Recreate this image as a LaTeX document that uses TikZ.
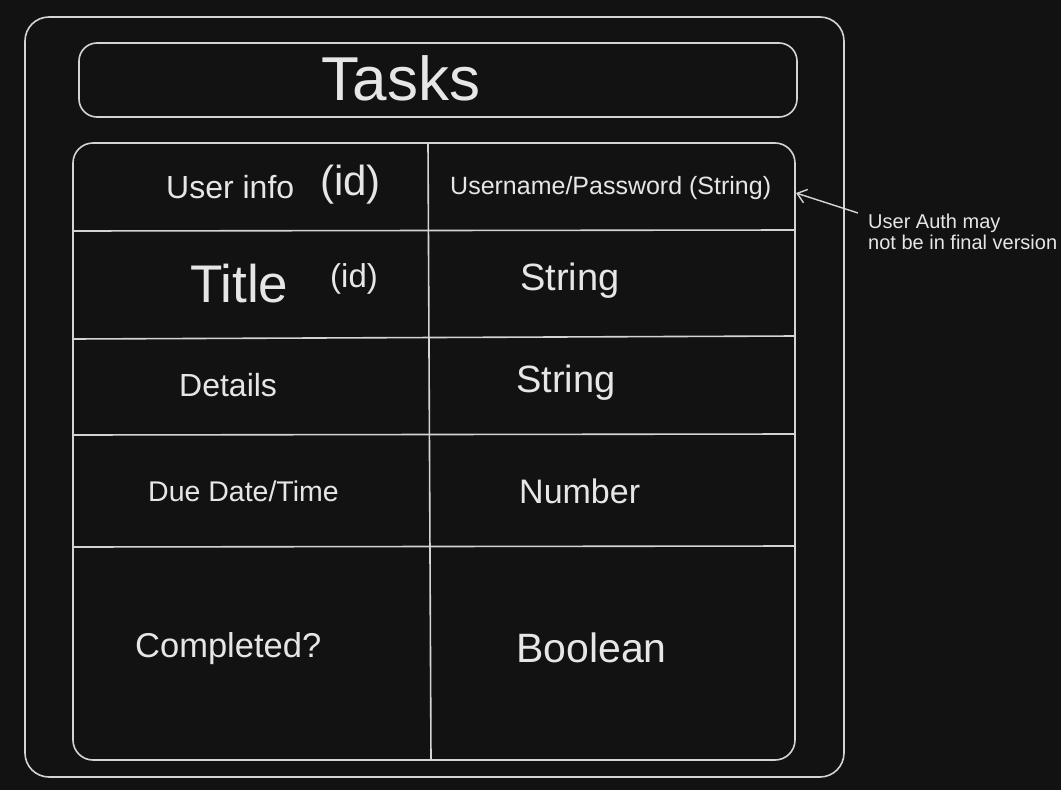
\documentclass[tikz,border=0pt]{standalone}
\usepackage{fontspec}
\setmainfont{Liberation Sans}
\usetikzlibrary{arrows.meta}
\definecolor{bg}{HTML}{121212}
\definecolor{ink}{HTML}{D4D4D4}
\definecolor{txt}{HTML}{E6E6E6}
\newcommand{\fs}[1]{\fontsize{#1}{#1}\selectfont}
\begin{document}
\begin{tikzpicture}[x=1pt,y=-1pt,
  box/.style={draw=ink,line width=1.6pt},
  rule/.style={draw=ink,line width=1.6pt},
  lbl/.style={text=txt,inner sep=0pt,anchor=west},
  conn/.style={draw=ink,line width=1.4pt,-{Straight Barb[length=9pt,width=14pt,line width=1.4pt]}}]
\fill[bg] (0,0) rectangle (1061,790);
\useasboundingbox (0,0) rectangle (1061,790);
% frames
\draw[box,rounded corners=24pt] (25,17) rectangle (844,777);
\draw[box,rounded corners=18pt] (79,43) rectangle (797,117);
\draw[box,rounded corners=20pt] (73,143) rectangle (795,760);
% grid lines
\draw[rule] (428,143) -- (431,760);
\draw[rule] (73,231) -- (795,230);
\draw[rule] (73,339) -- (795,336);
\draw[rule] (73,435) -- (795,434);
\draw[rule] (73,547) -- (795,546);
% texts
\node[text=txt,inner sep=0pt] (title) at (401,78) {\fs{62}Tasks};
\node[lbl] (userinfo) at (166,187) {\fs{32}User info};
\node[lbl] (uid) at (320,185) {\fs{42}(id)};
\node[lbl] (userpass) at (450,188) {\fs{25}Username/Password (String)};
\node[lbl] (ttl) at (190,284) {\fs{53}Title};
\node[lbl] (tid) at (330,279) {\fs{33}(id)};
\node[lbl] (str1) at (520,281) {\fs{38}String};
\node[lbl] (details) at (179,385) {\fs{32}Details};
\node[lbl] (str2) at (516,383) {\fs{38}String};
\node[lbl] (due) at (148,491) {\fs{28.5}Due Date/Time};
\node[lbl] (num) at (519,491) {\fs{34}Number};
\node[lbl] (done) at (135,649) {\fs{34.5}Completed?};
\node[lbl] (bool) at (516,648) {\fs{41}Boolean};
\node[text=txt,inner sep=0pt,anchor=north west,align=left] (note) at (868,214)
  {\fs{20}User Auth may\\[1pt]\fs{20}not be in final version};
% arrow
\coordinate (tail) at (858,213);
\coordinate (tip) at (796,193);
\draw[conn] (tail) -- (tip);
\end{tikzpicture}
\end{document}
